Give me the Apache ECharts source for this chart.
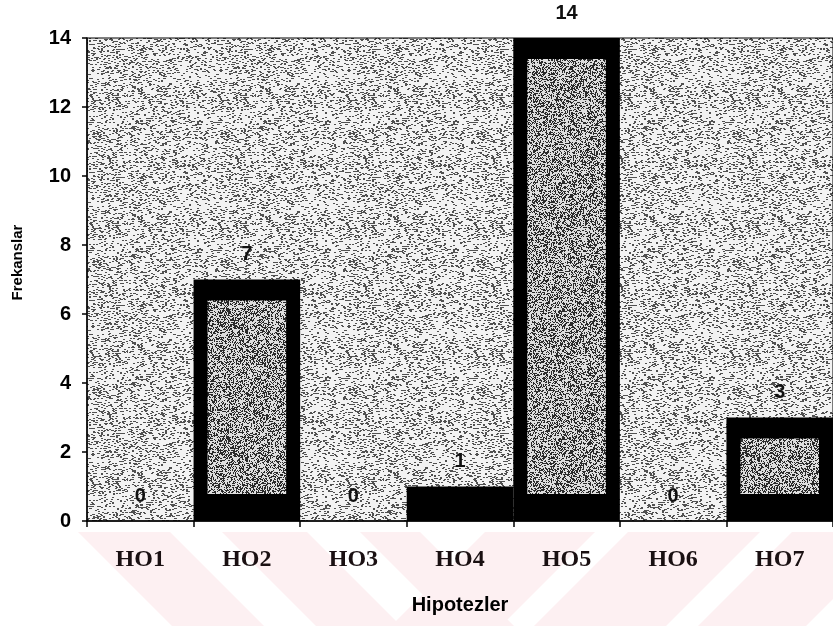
<!DOCTYPE html>
<html>
<head>
<meta charset="utf-8">
<script src="https://cdn.jsdelivr.net/npm/echarts@6/dist/echarts.min.js"></script>
<style>
html,body{margin:0;padding:0;background:#fff;}
#chart{width:833px;height:626px;}
</style>
</head>
<body>
<div id="chart"></div>
<script>
const categories = ['HO1', 'HO2', 'HO3', 'HO4', 'HO5', 'HO6', 'HO7'];
const frequencies = [0, 7, 0, 1, 14, 0, 3];
const yMin = 0, yMax = 14, yStep = 2;
const xTitle = 'Hipotezler';
const yTitle = 'Frekanslar';

function hash(x, y, seed) {
  let n = (Math.imul(x, 374761393) + Math.imul(y, 668265263) + Math.imul(seed, 69069)) | 0;
  n = Math.imul(n ^ (n >>> 13), 1274126177);
  n = n ^ (n >>> 16);
  return (n >>> 0) % 1000;
}
function makePattern(size, base, dot, thresh, seed, dash) {
  const c = document.createElement('canvas');
  c.width = size; c.height = size;
  const ctx = c.getContext('2d');
  ctx.fillStyle = base;
  ctx.fillRect(0, 0, size, size);
  ctx.fillStyle = dot;
  for (let y = 0; y < size; y++) {
    for (let x = 0; x < size; x++) {
      if (hash(x, y, seed) < thresh) ctx.fillRect(x, y, dash, 1);
    }
  }
  return c;
}
const bgPattern = makePattern(128, '#f2f2f2', '#505050', 130, 3, 2);
const innerPattern = makePattern(128, '#dedede', '#2a2a2a', 420, 7, 1);

const chart = echarts.init(document.getElementById('chart'), null, {renderer: 'canvas'});

const stripeColor = '#fdf0f2';
const leftTops = [[78, 170], [222, 307], [360, 420]];
const rightTops = [[485, 595], [628, 760], [792, 900]];
const graphics = [];
leftTops.forEach(function (b) {
  graphics.push({type: 'polygon', z: -10, silent: true,
    shape: {points: [[b[0], 532], [b[1], 532], [b[1] + 94, 626], [b[0] + 94, 626]]},
    style: {fill: stripeColor}});
});
rightTops.forEach(function (b) {
  graphics.push({type: 'polygon', z: -10, silent: true,
    shape: {points: [[b[0], 532], [b[1], 532], [b[1] - 94, 626], [b[0] - 94, 626]]},
    style: {fill: stripeColor}});
});

const option = {
  backgroundColor: '#ffffff',
  animation: false,
  graphic: graphics,
  grid: {
    left: 87, top: 38, width: 749, bottom: 105,
    show: true,
    backgroundColor: {image: bgPattern, repeat: 'repeat'},
    borderColor: '#000', borderWidth: 1
  },
  xAxis: {
    type: 'category',
    data: categories,
    boundaryGap: true,
    axisLine: {lineStyle: {color: '#000', width: 1.5}},
    axisTick: {show: true, alignWithLabel: false, length: 6, lineStyle: {color: '#000', width: 1.5}},
    axisLabel: {margin: 27, fontFamily: 'Liberation Serif', fontSize: 24, fontWeight: 'bold', color: '#1a1012'},
    name: xTitle,
    nameLocation: 'middle',
    nameGap: 74,
    nameTextStyle: {fontFamily: 'Liberation Sans', fontWeight: 'bold', fontSize: 20, color: '#000'}
  },
  yAxis: {
    type: 'value',
    min: yMin, max: yMax, interval: yStep,
    splitLine: {show: false},
    axisLine: {show: true, lineStyle: {color: '#000', width: 1.5}},
    axisTick: {show: true, length: 5, lineStyle: {color: '#000', width: 1.5}},
    axisLabel: {margin: 16, fontFamily: 'Liberation Sans', fontWeight: 'bold', fontSize: 20, color: '#000'},
    name: yTitle,
    nameLocation: 'middle',
    nameGap: 62,
    nameRotate: 90,
    nameTextStyle: {fontFamily: 'Liberation Sans', fontWeight: 'bold', fontSize: 15, color: '#000', padding: [0, 0, 0, 34]}
  },
  series: [{
    type: 'custom',
    clip: false,
    data: frequencies.map(function (v, i) { return [i, v]; }),
    renderItem: function (params, api) {
      const idx = api.value(0);
      const v = api.value(1);
      const top = api.coord([idx, v]);
      const base = api.coord([idx, 0]);
      const w = api.size([1, 0])[0];
      const x0 = top[0] - w / 2;
      const h = base[1] - top[1];
      const children = [];
      if (h > 0) {
        children.push({type: 'rect', shape: {x: x0, y: top[1], width: w, height: h}, style: {fill: '#000'}});
      }
      if (h > 60) {
        children.push({type: 'rect', shape: {x: x0 + 14, y: top[1] + 21, width: w - 28, height: h - 48},
          style: {fill: {image: innerPattern, repeat: 'repeat'}}});
      }
      children.push({type: 'text', style: {
        x: top[0], y: top[1] - 25, text: String(v), align: 'center', verticalAlign: 'middle',
        fontFamily: 'Liberation Sans', fontSize: 20, fontWeight: 'bold', fill: '#111'
      }});
      return {type: 'group', children: children};
    }
  }]
};
chart.setOption(option);
</script>
</body>
</html>
